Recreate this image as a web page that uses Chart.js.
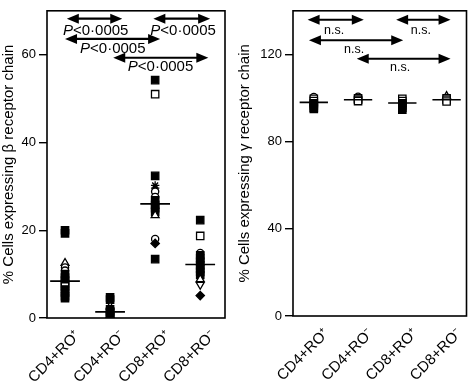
<!DOCTYPE html>
<html>
<head>
<meta charset="utf-8">
<script src="https://cdn.jsdelivr.net/npm/chart.js@4.4.0/dist/chart.umd.min.js"></script>
<style>
  body { margin: 0; background: #fff; }
  #wrap { position: relative; width: 473px; height: 392px; }
  canvas { position: absolute; top: 0; }
</style>
</head>
<body>
<div id="wrap">
  <canvas id="beta" width="236" height="392" style="left:0"></canvas>
  <canvas id="gamma" width="237" height="392" style="left:236px"></canvas>
</div>
<script>
// categories shared by both panels
const categories = ['CD4+RO\u207A', 'CD4+RO\u207B', 'CD8+RO\u207A', 'CD8+RO\u207B'];

// beta chain, one list per group
const betaCd4Pos = [20.0, 19.3, 12.5, 11.5, 10.8, 10.0, 9.2, 8.5, 7.8, 7.2, 6.5, 5.8, 5.0, 4.5];
const betaCd4Neg = [4.7, 4.2, 2.6, 2.0, 1.5, 1.0, 0.6, 0.2, 0.0];
const betaCd8Pos = [54.2, 51.0, 32.4, 30.2, 29.6, 28.8, 27.6, 26.8, 25.8, 25.0, 24.2, 23.4, 18.0, 17.0, 13.4];
const betaCd8Neg = [22.3, 18.7, 14.8, 14.3, 13.6, 12.8, 12.0, 11.2, 10.5, 9.8, 8.8, 7.6, 5.1];
const betaMedians = [8.4, 1.4, 26.0, 12.2];
const betaTicks = [0, 20, 40, 60];

// gamma chain
const gammaCd4Pos = [100.5, 99.6, 98.6, 97.6, 96.6, 95.6, 95.0];
const gammaCd4Neg = [100.6, 99.8, 99.2, 98.6];
const gammaCd8Pos = [99.6, 98.6, 97.6, 96.6, 95.6, 94.6];
const gammaCd8Neg = [100.8, 99.8, 99.2, 98.4];
const gammaMedians = [98.0, 99.2, 97.7, 99.2];
const gammaTicks = [0, 40, 80, 120];

// comparison arrows: [from x, to x, y] and their labels [x, y, text]
const betaArrows = [[1.04, 2.27, 68.2], [2.96, 4.22, 68.2], [1.0, 3.11, 63.6], [2.07, 4.18, 59.3]];
const betaLabels = [[1.68, 65.5, 'P<0\u00B70005'], [3.62, 65.5, 'P<0\u00B70005'], [2.06, 61.3, 'P<0\u00B70005'], [3.12, 57.3, 'P<0\u00B70005']];
const gammaArrows = [[0.86, 2.13, 135.9], [2.86, 4.09, 135.9], [0.89, 3.02, 126.5], [1.97, 4.09, 118.0]];
const gammaLabels = [[1.46, 131.0, 'n.s.'], [3.42, 131.0, 'n.s.'], [1.91, 122.0, 'n.s.'], [2.95, 114.0, 'n.s.']];

// marker codes per point (S filled square, s open square, o circle, t triangle, v down triangle, d diamond, x star)
const betaMarkers = [
  ['S','S','t','o','o','S','S','S','S','s','S','S','S','S'],
  ['S','S','t','S','S','S','S','S','d'],
  ['S','s','S','x','x','o','o','S','S','S','S','t','o','d','S'],
  ['S','s','o','S','S','S','S','S','S','S','t','v','d']
];
const gammaMarkers = [
  ['o','s','s','S','S','S','S'],
  ['o','s','s','s'],
  ['s','s','S','S','S','S'],
  ['t','s','s','s']
];

const FONT = '"Liberation Sans", Arial, Helvetica, sans-serif';

function markerProps(code) {
  switch (code) {
    case 'S': return { style: 'rect', r: 5.2, fill: '#000' };
    case 's': return { style: 'rect', r: 5.2, fill: '#fff' };
    case 'o': return { style: 'circle', r: 3.6, fill: '#fff' };
    case 't': return { style: 'triangle', r: 4.6, fill: '#fff' };
    case 'v': return { style: 'triangle', r: 4.6, fill: '#fff', rot: 180 };
    case 'd': return { style: 'rectRot', r: 4.2, fill: '#000' };
    case 'x': return { style: 'star', r: 4.2, fill: '#000' };
  }
}

function groupDatasets(groups, markers) {
  return groups.map((vals, i) => {
    const m = markers[i].map(markerProps);
    return {
      type: 'scatter',
      order: 1,
      data: vals.map(v => ({ x: i + 1, y: v })),
      pointStyle: m.map(p => p.style),
      pointRadius: m.map(p => p.r),
      pointRotation: m.map(p => p.rot || 0),
      backgroundColor: m.map(p => p.fill),
      borderColor: '#000',
      borderWidth: 1.3
    };
  });
}

function medianDataset(medians, hw) {
  return {
    type: 'line',
    order: 0,
    data: medians.flatMap((m, i) => [{ x: i + 1 - hw, y: m }, { x: i + 1 + hw, y: m }, { x: i + 1.5, y: null }]),
    borderColor: '#000',
    borderWidth: 1.6,
    pointRadius: 0,
    spanGaps: false
  };
}

function drawArrow(ctx, x1, x2, y) {
  const hl = 12, hh = 5;
  ctx.beginPath();
  ctx.moveTo(x1 + hl - 1, y);
  ctx.lineTo(x2 - hl + 1, y);
  ctx.stroke();
  ctx.beginPath();
  ctx.moveTo(x1, y); ctx.lineTo(x1 + hl, y - hh); ctx.lineTo(x1 + hl, y + hh); ctx.closePath();
  ctx.moveTo(x2, y); ctx.lineTo(x2 - hl, y - hh); ctx.lineTo(x2 - hl, y + hh); ctx.closePath();
  ctx.fill();
}

const annotPlugin = {
  id: 'annot',
  afterDraw(chart, args, opts) {
    const { ctx, chartArea: a, scales: { x, y } } = chart;
    ctx.save();
    ctx.strokeStyle = '#000';
    ctx.fillStyle = '#000';
    ctx.lineWidth = 1.6;
    ctx.strokeRect(a.left, a.top, a.width, a.height);
    ctx.lineWidth = 2.2;
    opts.arrows.forEach(([x1, x2, yv]) => drawArrow(ctx, x.getPixelForValue(x1), x.getPixelForValue(x2), y.getPixelForValue(yv)));
    ctx.textBaseline = 'middle';
    ctx.textAlign = 'left';
    opts.labels.forEach(([xv, yv, text]) => {
      const px = x.getPixelForValue(xv), py = y.getPixelForValue(yv);
      if (text.startsWith('P')) {
        ctx.font = 'italic 15px ' + FONT;
        const w1 = ctx.measureText('P').width;
        ctx.font = '15px ' + FONT;
        const rest = text.slice(1);
        const w2 = ctx.measureText(rest).width;
        const start = px - (w1 + w2) / 2;
        ctx.font = 'italic 15px ' + FONT;
        ctx.fillText('P', start, py);
        ctx.font = '15px ' + FONT;
        ctx.fillText(rest, start + w1, py);
      } else {
        ctx.font = '12.5px ' + FONT;
        const w = ctx.measureText(text).width;
        ctx.fillText(text, px - w / 2, py);
      }
    });
    ctx.restore();
  }
};

function makePanel(id, cfg) {
  new Chart(document.getElementById(id), {
    type: 'scatter',
    data: {
      datasets: [medianDataset(cfg.medians, cfg.hw), ...groupDatasets(cfg.groups, cfg.markers)]
    },
    options: {
      responsive: false,
      animation: false,
      layout: { padding: { top: 4, right: cfg.rpad, left: 0, bottom: 0 } },
      plugins: {
        legend: { display: false },
        tooltip: { enabled: false },
        annot: { arrows: cfg.arrows, labels: cfg.labels }
      },
      scales: {
        x: {
          type: 'linear',
          min: cfg.xmin,
          max: cfg.xmax,
          afterBuildTicks: s => { s.ticks = categories.map((c, i) => ({ value: i + 1 })); },
          afterFit: s => { s.height = cfg.xh; },
          grid: { display: false },
          border: { display: false },
          ticks: {
            callback: v => categories[v - 1],
            minRotation: 45,
            maxRotation: 45,
            autoSkip: false,
            padding: 1,
            labelOffset: 13,
            color: '#000',
            font: { family: FONT, size: 15 }
          }
        },
        y: {
          min: 0,
          max: cfg.ymax,
          afterBuildTicks: s => { s.ticks = cfg.ticks.map(v => ({ value: v })); },
          afterFit: s => { s.width = cfg.yw; },
          grid: { drawOnChartArea: false, color: '#000', tickLength: 8, lineWidth: 1.4 },
          border: { display: false },
          ticks: { padding: 3, color: '#000', font: { family: FONT, size: 13 } },
          title: {
            display: true,
            text: cfg.title,
            color: '#000',
            font: { family: FONT, size: 15 },
            padding: { top: 0, bottom: 0 }
          }
        }
      }
    },
    plugins: [annotPlugin]
  });
}

makePanel('beta', {
  groups: [betaCd4Pos, betaCd4Neg, betaCd8Pos, betaCd8Neg],
  markers: betaMarkers,
  medians: betaMedians,
  ticks: betaTicks,
  arrows: betaArrows,
  labels: betaLabels,
  title: '% Cells expressing \u03B2 receptor chain',
  ymax: 70, xmin: 0.6, xmax: 4.55, hw: 0.33,
  yw: 47, xh: 74, rpad: 11
});

makePanel('gamma', {
  groups: [gammaCd4Pos, gammaCd4Neg, gammaCd8Pos, gammaCd8Neg],
  markers: gammaMarkers,
  medians: gammaMedians,
  ticks: gammaTicks,
  arrows: gammaArrows,
  labels: gammaLabels,
  title: '% Cells expressing \u03B3 receptor chain',
  ymax: 140, xmin: 0.53, xmax: 4.45, hw: 0.32,
  yw: 57, xh: 76, rpad: 4
});
</script>
</body>
</html>
